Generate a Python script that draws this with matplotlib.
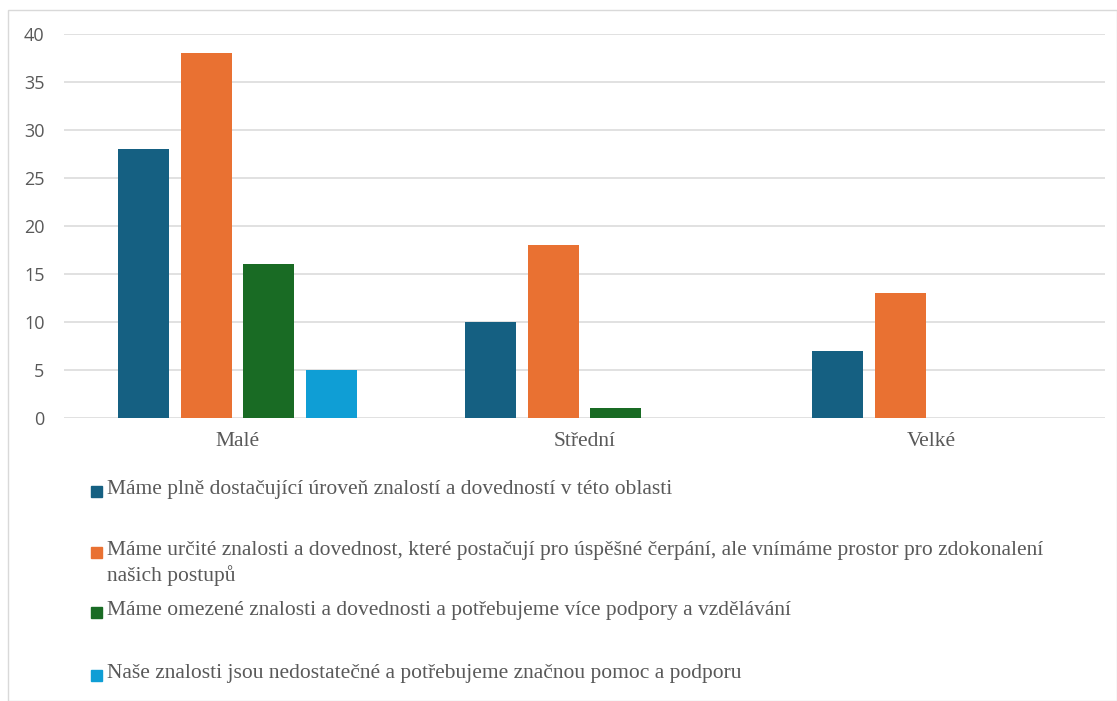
import matplotlib.pyplot as plt
import numpy as np
from matplotlib.patches import Rectangle

# data
categories = ['Malé', 'Střední', 'Velké']
series_names = [
    'Máme plně dostačující úroveň znalostí a dovedností v této oblasti',
    'Máme určité znalosti a dovednost, které postačují pro úspěšné čerpání, ale vnímáme prostor pro zdokonalení\nnašich postupů',
    'Máme omezené znalosti a dovednosti a potřebujeme více podpory a vzdělávání',
    'Naše znalosti jsou nedostatečné a potřebujeme značnou pomoc a podporu',
]
plne = [28, 10, 7]
urcite = [38, 18, 13]
omezene = [16, 1, 0]
nedostatecne = [5, 0, 0]
colors = ['#156082', '#E97132', '#196B24', '#0F9ED5']
yticks = [0, 5, 10, 15, 20, 25, 30, 35, 40]

W, H = 1117, 701
fig = plt.figure(figsize=(W / 100, H / 100), dpi=100)
ax = fig.add_axes([64 / W, 1 - 418 / H, (1105 - 64) / W, (418 - 34) / H])

# chart border
fig.patches.append(Rectangle((8 / W, 0), 1 - 8 / W, 1 - 10 / H, transform=fig.transFigure,
                             fill=False, edgecolor='#d9d9d9', linewidth=1.0))

x = np.arange(len(categories))
step = 0.18
bw = 0.147
values = [plne, urcite, omezene, nedostatecne]
for i, (vals, c) in enumerate(zip(values, colors)):
    ax.bar(x + (i - 1.5) * step, vals, width=bw, color=c, zorder=3)

ax.set_xlim(-0.5, 2.5)
ax.set_ylim(0, 40)
ax.set_yticks(yticks)
ax.yaxis.grid(True, color='#d9d9d9', linewidth=1.1, zorder=0)
ax.set_axisbelow(True)
for s in ax.spines.values():
    s.set_visible(False)
ax.tick_params(axis='y', length=0, pad=14, labelsize=13, labelcolor='#595959')
for lbl in ax.get_yticklabels():
    lbl.set_family('Open Sans')
ax.set_xticks(x)
ax.set_xticklabels(categories, family='Liberation Serif', fontsize=15.5, color='#595959')
ax.tick_params(axis='x', length=0, pad=10)

# legend drawn by hand to keep the uneven spacing
leg_y = [491, 552, 612, 675]
for name, c, yy in zip(series_names, colors, leg_y):
    fig.patches.append(Rectangle((91 / W, 1 - (yy + 6) / H), 11 / W, 11 / H,
                                 transform=fig.transFigure, color=c))
    fig.text(107 / W, 1 - (yy - 11) / H, name, family='Liberation Serif', fontsize=15.5,
             color='#595959', va='top', ha='left', linespacing=1.35)

fig.savefig('out.png', dpi=100)
